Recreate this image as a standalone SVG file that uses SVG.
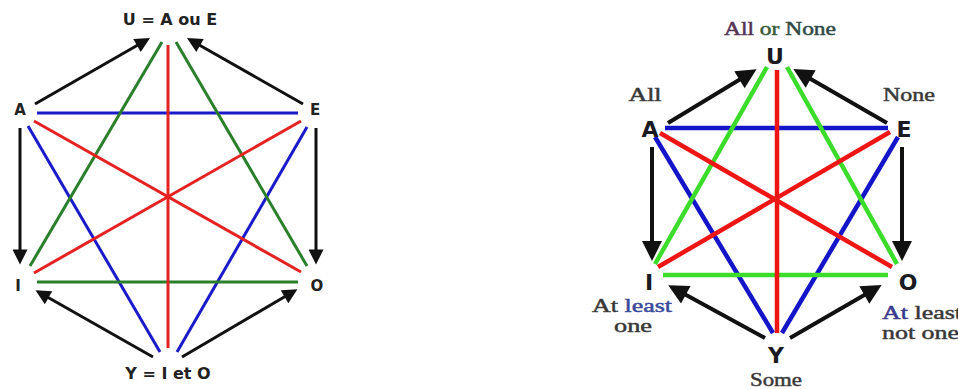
<svg xmlns="http://www.w3.org/2000/svg" width="958" height="389" viewBox="0 0 958 389">
<defs>
<style>
.l1{stroke-width:3;fill:none;stroke-linecap:butt}
.l2{stroke-width:4.5;fill:none;stroke-linecap:butt}
.b1{stroke:#1a1ac8}.g1{stroke:#2a7f2a}.r1{stroke:#e52222}
.b2{stroke:#1414c8}.g2{stroke:#3bdc2a}.r2{stroke:#ee1515}
.a1{stroke:#111;stroke-width:3;fill:none;marker-end:url(#ah1)}
.a2{stroke:#111;stroke-width:4;fill:none;marker-end:url(#ah2)}
.lab1{font-family:"DejaVu Sans",Verdana,sans-serif;font-weight:bold;font-size:15px;fill:#222;text-anchor:middle}
.ttl{font-family:"DejaVu Sans",Verdana,sans-serif;font-weight:bold;font-size:16px;fill:#222;text-anchor:middle}
.lab2{font-family:"DejaVu Sans",Verdana,sans-serif;font-weight:bold;font-size:22px;fill:#1a1a22;text-anchor:middle}
.ser{font-family:"Liberation Serif","Times New Roman",serif;font-size:19px;fill:#333;stroke:#444;stroke-width:0.5;text-anchor:middle}
.sers{font-family:"Liberation Serif","Times New Roman",serif;font-size:19px;fill:#333;stroke:#444;stroke-width:0.5;text-anchor:start}
</style>
<marker id="ah1" viewBox="0 0 10 10" refX="5" refY="5" markerWidth="17" markerHeight="15" markerUnits="userSpaceOnUse" orient="auto"><path d="M0,0 L10,5 L0,10 z" fill="#111"/></marker>
<marker id="ah2" viewBox="0 0 10 10" refX="5" refY="5" markerWidth="22" markerHeight="20" markerUnits="userSpaceOnUse" orient="auto"><path d="M0,0 L10,5 L0,10 z" fill="#111"/></marker>
</defs>
<rect width="958" height="389" fill="#fff"/>

<!-- Left diagram -->
<g id="left-connectors">
<line class="l1 b1" x1="37" y1="113" x2="298" y2="113"/>
<line class="l1 b1" x1="28" y1="126" x2="160" y2="352"/>
<line class="l1 b1" x1="307" y1="127" x2="177" y2="352"/>
<line class="l1 g1" x1="37" y1="282" x2="298" y2="282"/>
<line class="l1 g1" x1="30" y1="266" x2="162" y2="42"/>
<line class="l1 g1" x1="307" y1="266" x2="176" y2="42"/>
<line class="l1 r1" x1="168" y1="45" x2="168" y2="348"/>
<line class="l1 r1" x1="34" y1="121" x2="301" y2="272"/>
<line class="l1 r1" x1="301" y1="121" x2="34" y2="273"/>
<line class="a1" x1="35" y1="104" x2="143.5" y2="41.7"/>
<line class="a1" x1="303" y1="104" x2="193.5" y2="41.7"/>
<line class="a1" x1="20" y1="128" x2="20" y2="257"/>
<line class="a1" x1="316" y1="128" x2="316" y2="257"/>
<line class="a1" x1="153" y1="357" x2="42" y2="294"/>
<line class="a1" x1="182" y1="357" x2="291" y2="293"/>
</g>
<g id="left-U"><text class="ttl" x="170" y="25">U = A ou E</text></g>
<g id="left-A"><text class="lab1" x="20" y="115">A</text></g>
<g id="left-E"><text class="lab1" x="315" y="115">E</text></g>
<g id="left-I"><text class="lab1" x="18" y="291">I</text></g>
<g id="left-O"><text class="lab1" x="317" y="291">O</text></g>
<g id="left-Y"><text class="ttl" x="168" y="379">Y = I et O</text></g>

<!-- Right diagram -->
<g id="right-connectors">
<line class="l2 b2" x1="665" y1="128" x2="888" y2="128"/>
<line class="l2 b2" x1="655" y1="137" x2="773" y2="333"/>
<line class="l2 b2" x1="898" y1="137" x2="782" y2="333"/>
<line class="l2 g2" x1="663" y1="275" x2="888" y2="275"/>
<line class="l2 g2" x1="655" y1="264" x2="767" y2="67"/>
<line class="l2 g2" x1="897" y1="264" x2="787" y2="67"/>
<line class="l2 r2" x1="777" y1="70" x2="777" y2="333"/>
<line class="l2 r2" x1="660" y1="133" x2="892" y2="267"/>
<line class="l2 r2" x1="890" y1="132" x2="658" y2="267"/>
<line class="a2" x1="668" y1="123" x2="748" y2="74.5"/>
<line class="a2" x1="887" y1="123" x2="802" y2="74"/>
<line class="a2" x1="652" y1="147" x2="652" y2="251"/>
<line class="a2" x1="902" y1="147" x2="902" y2="251"/>
<line class="a2" x1="765" y1="338" x2="677" y2="290"/>
<line class="a2" x1="790" y1="338" x2="873" y2="290"/>
</g>
<g id="right-U">
<text class="ser" x="780" y="35" textLength="112" lengthAdjust="spacingAndGlyphs"><tspan fill="#553355" stroke="#553355">All</tspan> <tspan fill="#3a5a3a" stroke="#3a5a3a">or</tspan> <tspan fill="#2f4a44" stroke="#2f4a44">None</tspan></text>
<text class="lab2" x="775" y="64">U</text>
</g>
<g id="right-A">
<text class="ser" x="645" y="101" textLength="33" lengthAdjust="spacingAndGlyphs">All</text>
<text class="lab2" x="650" y="137">A</text>
</g>
<g id="right-E">
<text class="ser" x="909" y="101" textLength="52" lengthAdjust="spacingAndGlyphs">None</text>
<text class="lab2" x="904" y="137">E</text>
</g>
<g id="right-I">
<text class="lab2" x="649" y="290">I</text>
<text class="ser" x="632" y="312" textLength="80" lengthAdjust="spacingAndGlyphs">At <tspan fill="#3a4a9a" stroke="#3a4a9a">least</tspan></text>
<text class="ser" x="633" y="332" textLength="38" lengthAdjust="spacingAndGlyphs">one</text>
</g>
<g id="right-O">
<text class="lab2" x="908" y="290">O</text>
<text class="sers" x="882" y="319" textLength="80" lengthAdjust="spacingAndGlyphs"><tspan fill="#3a3a8a" stroke="#3a3a8a">At</tspan> least</text>
<text class="sers" x="882" y="339" textLength="77" lengthAdjust="spacingAndGlyphs">not one</text>
</g>
<g id="right-Y">
<text class="lab2" x="776" y="363">Y</text>
<text class="ser" x="776" y="386" textLength="52" lengthAdjust="spacingAndGlyphs">Some</text>
</g>
</svg>
